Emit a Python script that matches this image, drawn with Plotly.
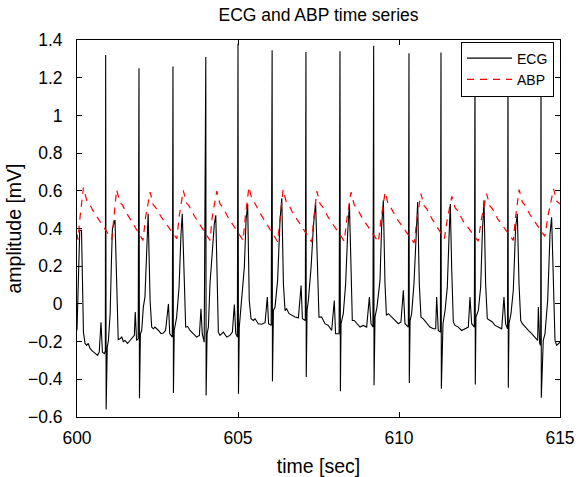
import plotly.graph_objects as go

# ECG trace: (time [s], amplitude [mV]) vertices
ecg_t = [
    600.00, 600.05, 600.085, 600.14, 600.17, 600.20, 600.25, 600.30, 600.35, 600.40,
    600.455, 600.51, 600.56, 600.64, 600.69, 600.745, 600.79, 600.85, 600.88,
    600.89, 600.905, 600.94, 600.975, 601.03, 601.07, 601.10, 601.18, 601.24, 601.28,
    601.335, 601.39, 601.44, 601.49, 601.57, 601.65, 601.72, 601.78, 601.81, 601.85, 601.90,
    601.925, 601.94, 601.97, 602.01, 602.06, 602.11, 602.16, 602.21, 602.27, 602.32,
    602.37, 602.42, 602.53, 602.61, 602.68, 602.75, 602.84, 602.88, 602.96,
    602.98, 602.995, 603.02, 603.095, 603.17, 603.23, 603.27, 603.32, 603.375,
    603.44, 603.51, 603.61, 603.72, 603.80, 603.85, 603.89, 603.95,
    604.00, 604.01, 604.04, 604.08, 604.13, 604.20, 604.265, 604.31, 604.35, 604.39,
    604.44, 604.545, 604.65, 604.75, 604.825, 604.887, 604.93, 604.98,
    605.00, 605.015, 605.04, 605.11, 605.197, 605.25, 605.30, 605.35, 605.405,
    605.475, 605.53, 605.63, 605.735, 605.84, 605.91, 605.95, 606.03,
    606.06, 606.07, 606.10, 606.15, 606.23, 606.305, 606.36, 606.41, 606.46,
    606.51, 606.585, 606.67, 606.77, 606.875, 606.96, 607.00, 607.09,
    607.11, 607.12, 607.145, 607.185, 607.27, 607.34, 607.41, 607.47, 607.515,
    607.60, 607.65, 607.70, 607.805, 607.91, 607.99, 608.03, 608.14,
    608.167, 608.18, 608.20, 608.27, 608.343, 608.405, 608.46, 608.51, 608.55,
    608.61, 608.685, 608.79, 608.89, 608.995, 609.08, 609.13, 609.19,
    609.213, 609.225, 609.255, 609.316, 609.41, 609.46, 609.513, 609.565, 609.61,
    609.67, 609.77, 609.875, 609.98, 610.06, 610.135, 610.186, 610.29,
    610.31, 610.32, 610.345, 610.393, 610.465, 610.528, 610.58, 610.63, 610.683,
    610.755, 610.86, 610.96, 611.065, 611.14, 611.17, 611.22, 611.285,
    611.304, 611.315, 611.366, 611.43, 611.50, 611.553, 611.594, 611.635, 611.687,
    611.74, 611.84, 611.946, 612.05, 612.153, 612.205, 612.257, 612.34,
    612.36, 612.37, 612.39, 612.464, 612.536, 612.588, 612.64, 612.69, 612.743,
    612.826, 612.90, 612.98, 613.085, 613.19, 613.26, 613.31, 613.37,
    613.385, 613.395, 613.416, 613.478, 613.55, 613.623, 613.675, 613.727, 613.78,
    613.83, 613.913, 614.017, 614.12, 614.224, 614.306, 614.327, 614.37, 614.40,
    614.41, 614.42, 614.48, 614.534, 614.617, 614.69, 614.74, 614.79, 614.845,
    614.897, 614.95, 615.00,
]
ecg_v = [
    -0.14, 0.22, 0.39, 0.39, 0.00, -0.15, -0.21, -0.22, -0.21, -0.235,
    -0.247, -0.255, -0.264, -0.273, -0.256, -0.097, -0.256, -0.264, -0.25,
    1.32, -0.56, -0.229, -0.194, -0.05, 0.23, 0.40, 0.445, 0.10, -0.19,
    -0.185, -0.176, -0.20, -0.194, -0.21, -0.194, -0.185, -0.167, -0.043, -0.194, -0.185,
    1.25, -0.50, -0.158, -0.14, -0.017, 0.036, 0.30, 0.478, 0.018, -0.123,
    -0.132, -0.123, -0.141, -0.158, -0.155, -0.141, 0.0, -0.158, -0.176,
    1.26, -0.473, -0.141, -0.07, 0.09, 0.372, 0.478, 0.195, -0.123,
    -0.12, -0.141, -0.158, -0.176, -0.167, -0.026, -0.158, -0.203,
    1.31, -0.486, -0.158, -0.123, 0.107, 0.266, 0.425, 0.47, 0.142, -0.150,
    -0.167, -0.150, -0.176, -0.167, -0.150, -0.003, -0.158, -0.176,
    1.38, -0.477, -0.123, 0.018, 0.195, 0.443, 0.53, 0.018, -0.079,
    -0.088, -0.079, -0.105, -0.108, -0.10, 0.036, -0.105, -0.114,
    1.345, -0.411, -0.035, -0.017, 0.125, 0.443, 0.56, 0.107, -0.035,
    -0.026, -0.052, -0.061, -0.07, -0.074, 0.098, -0.079, -0.088,
    1.336, -0.388, -0.035, 0.018, 0.195, 0.407, 0.54, 0.10, -0.07,
    -0.07, -0.088, -0.105, -0.114, -0.141, 0.018, -0.158, -0.158,
    1.34, -0.463, -0.105, -0.052, 0.107, 0.372, 0.53, 0.195, -0.088,
    -0.088, -0.105, -0.123, -0.114, -0.123, 0.036, -0.105, -0.123,
    1.37, -0.432, -0.07, -0.017, 0.125, 0.408, 0.55, 0.107, -0.061,
    -0.052, -0.07, -0.088, -0.105, -0.096, 0.072, -0.105, -0.123,
    1.33, -0.42, -0.088, -0.052, 0.107, 0.372, 0.54, 0.107, -0.07,
    -0.079, -0.105, -0.123, -0.132, -0.132, 0.036, -0.141, -0.150,
    1.334, -0.45, -0.105, -0.035, 0.089, 0.354, 0.53, 0.195, -0.096,
    -0.114, -0.123, -0.141, -0.132, -0.123, 0.036, -0.105, -0.123,
    1.30, -0.427, -0.07, -0.035, 0.089, 0.372, 0.55, 0.107, -0.079,
    -0.088, -0.096, -0.114, -0.123, -0.132, 0.036, -0.105, -0.132,
    1.30, -0.445, -0.105, -0.052, 0.072, 0.408, 0.478, 0.107, -0.088,
    -0.105, -0.123, -0.141, -0.158, -0.176, -0.194, -0.017, -0.211, -0.22,
    1.30, -0.498, -0.194, -0.158, 0.018, 0.372, 0.46, 0.107, -0.194,
    -0.22, -0.211, -0.203,
]

# ABP trace: (time [s], amplitude) vertices
abp_t = [
    600.00,
    600.03, 600.10, 600.20, 600.30, 600.38, 600.48, 600.55,
    601.08, 601.14, 601.23, 601.33, 601.41, 601.51, 601.58,
    602.05, 602.13, 602.27, 602.37, 602.45, 602.55, 602.62,
    603.10, 603.17, 603.30, 603.40, 603.48, 603.58, 603.65,
    604.13, 604.20, 604.34, 604.44, 604.52, 604.62, 604.69,
    605.16, 605.23, 605.34, 605.44, 605.52, 605.62, 605.69,
    606.23, 606.30, 606.40, 606.50, 606.58, 606.68, 606.75,
    607.29, 607.35, 607.45, 607.55, 607.63, 607.73, 607.80,
    608.30, 608.38, 608.51, 608.61, 608.69, 608.79, 608.86,
    609.36, 609.44, 609.57, 609.67, 609.75, 609.85, 609.92,
    610.47, 610.55, 610.68, 610.78, 610.86, 610.96, 611.03,
    611.41, 611.50, 611.64, 611.74, 611.82, 611.92, 611.99,
    612.46, 612.56, 612.72, 612.82, 612.90, 613.00, 613.07,
    613.55, 613.62, 613.73, 613.83, 613.91, 614.01, 614.08,
    614.53, 614.63, 614.80, 614.90, 615.00,
]
abp_v = [
    0.37,
    0.34, 0.47, 0.617, 0.55, 0.535, 0.50, 0.48,
    0.342, 0.46, 0.606, 0.54, 0.525, 0.49, 0.47,
    0.337, 0.46, 0.593, 0.525, 0.51, 0.48, 0.46,
    0.346, 0.46, 0.602, 0.535, 0.52, 0.485, 0.465,
    0.337, 0.46, 0.598, 0.53, 0.515, 0.48, 0.46,
    0.337, 0.47, 0.62, 0.55, 0.535, 0.50, 0.48,
    0.33, 0.46, 0.606, 0.54, 0.525, 0.49, 0.47,
    0.328, 0.45, 0.598, 0.53, 0.515, 0.48, 0.46,
    0.333, 0.45, 0.593, 0.525, 0.51, 0.475, 0.455,
    0.328, 0.45, 0.593, 0.525, 0.51, 0.475, 0.455,
    0.323, 0.44, 0.585, 0.52, 0.505, 0.47, 0.45,
    0.346, 0.45, 0.57, 0.51, 0.495, 0.46, 0.44,
    0.333, 0.45, 0.585, 0.52, 0.505, 0.47, 0.45,
    0.337, 0.46, 0.606, 0.54, 0.525, 0.49, 0.47,
    0.358, 0.47, 0.61, 0.545, 0.53,
]

x_tick_vals = [600, 605, 610, 615]
y_tick_vals = [-0.6, -0.4, -0.2, 0, 0.2, 0.4, 0.6, 0.8, 1, 1.2, 1.4]
y_tick_text = ["\u22120.6", "\u22120.4", "\u22120.2", "0", "0.2", "0.4", "0.6", "0.8", "1", "1.2", "1.4"]

FONT = "Liberation Sans, Arial, sans-serif"

fig = go.Figure()
fig.add_trace(go.Scatter(
    x=ecg_t, y=ecg_v, mode="lines", name="ECG",
    line=dict(color="black", width=1.1),
))
fig.add_trace(go.Scatter(
    x=abp_t, y=abp_v, mode="lines", name="ABP",
    line=dict(color="#ff0000", width=1.2, dash="7px,6px"),
))

axis_common = dict(
    showline=True, linecolor="black", linewidth=1, mirror="allticks",
    ticks="inside", ticklen=5, tickcolor="black", tickwidth=1,
    showgrid=False, zeroline=False, automargin=False,
    tickfont=dict(family=FONT, size=17.5, color="black"),
)

fig.update_layout(
    width=579, height=477,
    margin=dict(l=77, r=19, t=40, b=60),
    paper_bgcolor="white", plot_bgcolor="white",
    font=dict(family=FONT, color="black"),
    title=dict(
        text="ECG and ABP time series",
        x=318.5 / 579, xanchor="center", xref="container",
        y=1 - 15 / 477, yanchor="middle", yref="container",
        font=dict(family=FONT, size=17.5, color="black"),
        automargin=False,
    ),
    xaxis=dict(
        range=[600, 615], tickvals=x_tick_vals,
        title=dict(text="time [sec]", font=dict(family=FONT, size=19.5), standoff=13),
        ticklabelstandoff=5,
        **axis_common,
    ),
    yaxis=dict(
        range=[-0.6, 1.4], tickvals=y_tick_vals, ticktext=y_tick_text,
        title=dict(text="amplitude [mV]", font=dict(family=FONT, size=19.5), standoff=1),
        ticklabelstandoff=10,
        **axis_common,
    ),
    legend=dict(
        x=(554 - 77) / 483, xanchor="right", xref="paper",
        y=(417 - 69) / 377, yanchor="middle", yref="paper",
        bgcolor="white", bordercolor="black", borderwidth=1,
        font=dict(family=FONT, size=14, color="black"),
        itemwidth=45, tracegroupgap=0,
    ),
    showlegend=True,
)

fig.write_html("out.html")
